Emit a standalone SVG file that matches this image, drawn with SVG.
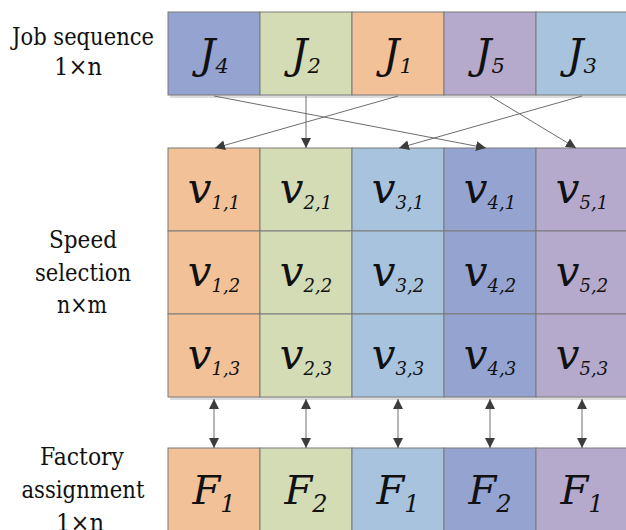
<svg xmlns="http://www.w3.org/2000/svg" width="626" height="530" viewBox="0 0 626 530">
<style>
text{font-family:'DejaVu Serif',serif;fill:#111;text-anchor:middle}
.lbl{font-size:25px}
.m{font-style:italic}
.J{font-size:41px}.Js{font-size:21px}
.v{font-size:42px}.vs{font-size:18px}
.F{font-size:40px}.Fs{font-size:24px}
.cell{stroke:#7a7a7a;stroke-width:1}
.sh{fill:#dcdcdc}
.c1{fill:#F2C198}.c2{fill:#D4DCB6}.c3{fill:#A7C3DD}.c4{fill:#95A3D0}.c5{fill:#B5AACC}
.con{stroke:#6e6e6e;stroke-width:1;fill:none}
</style>
<defs>
<marker id="ah" viewBox="0 0 10 10" refX="10" refY="5" markerWidth="10" markerHeight="10" markerUnits="userSpaceOnUse" orient="auto-start-reverse">
<path d="M0,0 L10,5 L0,10 z" fill="#3c3c3c"/>
</marker>
</defs>

<!-- Left labels -->
<g id="label-job">
<text class="lbl" x="83" y="45" textLength="142" lengthAdjust="spacingAndGlyphs">Job sequence</text>
<text class="lbl" x="78" y="75" textLength="48" lengthAdjust="spacingAndGlyphs">1×n</text>
</g>
<g id="label-speed">
<text class="lbl" x="83" y="248" textLength="68" lengthAdjust="spacingAndGlyphs">Speed</text>
<text class="lbl" x="83" y="281" textLength="96" lengthAdjust="spacingAndGlyphs">selection</text>
<text class="lbl" x="82" y="313" textLength="50" lengthAdjust="spacingAndGlyphs">n×m</text>
</g>
<g id="label-factory">
<text class="lbl" x="82" y="465" textLength="84" lengthAdjust="spacingAndGlyphs">Factory</text>
<text class="lbl" x="83" y="498" textLength="123" lengthAdjust="spacingAndGlyphs">assignment</text>
<text class="lbl" x="80" y="531" textLength="48" lengthAdjust="spacingAndGlyphs">1×n</text>
</g>

<!-- shadows -->
<rect class="sh" x="170" y="95" width="458" height="3"/>
<rect class="sh" x="170" y="397" width="458" height="3"/>

<!-- Job sequence row -->
<g id="job-row">
<g id="J4"><rect class="cell c4" x="168" y="12" width="92" height="83"/><text class="m" x="214" y="68"><tspan class="J">J</tspan><tspan class="Js" dy="5">4</tspan></text></g>
<g id="J2"><rect class="cell c2" x="260" y="12" width="92" height="83"/><text class="m" x="306" y="68"><tspan class="J">J</tspan><tspan class="Js" dy="5">2</tspan></text></g>
<g id="J1"><rect class="cell c1" x="352" y="12" width="92" height="83"/><text class="m" x="398" y="68"><tspan class="J">J</tspan><tspan class="Js" dy="5">1</tspan></text></g>
<g id="J5"><rect class="cell c5" x="444" y="12" width="92" height="83"/><text class="m" x="490" y="68"><tspan class="J">J</tspan><tspan class="Js" dy="5">5</tspan></text></g>
<g id="J3"><rect class="cell c3" x="536" y="12" width="92" height="83"/><text class="m" x="582" y="68"><tspan class="J">J</tspan><tspan class="Js" dy="5">3</tspan></text></g>
</g>

<!-- Speed selection matrix -->
<g id="speed-matrix">
<g id="v11"><rect class="cell c1" x="168" y="148" width="92" height="83"/><text class="m" x="214" y="203"><tspan class="v">v</tspan><tspan class="vs" dy="6">1,1</tspan></text></g>
<g id="v21"><rect class="cell c2" x="260" y="148" width="92" height="83"/><text class="m" x="306" y="203"><tspan class="v">v</tspan><tspan class="vs" dy="6">2,1</tspan></text></g>
<g id="v31"><rect class="cell c3" x="352" y="148" width="92" height="83"/><text class="m" x="398" y="203"><tspan class="v">v</tspan><tspan class="vs" dy="6">3,1</tspan></text></g>
<g id="v41"><rect class="cell c4" x="444" y="148" width="92" height="83"/><text class="m" x="490" y="203"><tspan class="v">v</tspan><tspan class="vs" dy="6">4,1</tspan></text></g>
<g id="v51"><rect class="cell c5" x="536" y="148" width="92" height="83"/><text class="m" x="582" y="203"><tspan class="v">v</tspan><tspan class="vs" dy="6">5,1</tspan></text></g>

<g id="v12"><rect class="cell c1" x="168" y="231" width="92" height="83"/><text class="m" x="214" y="286"><tspan class="v">v</tspan><tspan class="vs" dy="6">1,2</tspan></text></g>
<g id="v22"><rect class="cell c2" x="260" y="231" width="92" height="83"/><text class="m" x="306" y="286"><tspan class="v">v</tspan><tspan class="vs" dy="6">2,2</tspan></text></g>
<g id="v32"><rect class="cell c3" x="352" y="231" width="92" height="83"/><text class="m" x="398" y="286"><tspan class="v">v</tspan><tspan class="vs" dy="6">3,2</tspan></text></g>
<g id="v42"><rect class="cell c4" x="444" y="231" width="92" height="83"/><text class="m" x="490" y="286"><tspan class="v">v</tspan><tspan class="vs" dy="6">4,2</tspan></text></g>
<g id="v52"><rect class="cell c5" x="536" y="231" width="92" height="83"/><text class="m" x="582" y="286"><tspan class="v">v</tspan><tspan class="vs" dy="6">5,2</tspan></text></g>

<g id="v13"><rect class="cell c1" x="168" y="314" width="92" height="83"/><text class="m" x="214" y="369"><tspan class="v">v</tspan><tspan class="vs" dy="6">1,3</tspan></text></g>
<g id="v23"><rect class="cell c2" x="260" y="314" width="92" height="83"/><text class="m" x="306" y="369"><tspan class="v">v</tspan><tspan class="vs" dy="6">2,3</tspan></text></g>
<g id="v33"><rect class="cell c3" x="352" y="314" width="92" height="83"/><text class="m" x="398" y="369"><tspan class="v">v</tspan><tspan class="vs" dy="6">3,3</tspan></text></g>
<g id="v43"><rect class="cell c4" x="444" y="314" width="92" height="83"/><text class="m" x="490" y="369"><tspan class="v">v</tspan><tspan class="vs" dy="6">4,3</tspan></text></g>
<g id="v53"><rect class="cell c5" x="536" y="314" width="92" height="83"/><text class="m" x="582" y="369"><tspan class="v">v</tspan><tspan class="vs" dy="6">5,3</tspan></text></g>
</g>

<!-- Factory assignment row -->
<g id="factory-row">
<g id="F-1"><rect class="cell c1" x="168" y="448" width="92" height="83"/><text class="m" x="214" y="504"><tspan class="F">F</tspan><tspan class="Fs" dy="8">1</tspan></text></g>
<g id="F-2"><rect class="cell c2" x="260" y="448" width="92" height="83"/><text class="m" x="306" y="504"><tspan class="F">F</tspan><tspan class="Fs" dy="8">2</tspan></text></g>
<g id="F-3"><rect class="cell c3" x="352" y="448" width="92" height="83"/><text class="m" x="398" y="504"><tspan class="F">F</tspan><tspan class="Fs" dy="8">1</tspan></text></g>
<g id="F-4"><rect class="cell c4" x="444" y="448" width="92" height="83"/><text class="m" x="490" y="504"><tspan class="F">F</tspan><tspan class="Fs" dy="8">2</tspan></text></g>
<g id="F-5"><rect class="cell c5" x="536" y="448" width="92" height="83"/><text class="m" x="582" y="504"><tspan class="F">F</tspan><tspan class="Fs" dy="8">1</tspan></text></g>
</g>

<!-- Connectors -->
<g id="connectors">
<line class="con" x1="214" y1="96" x2="486" y2="148" marker-end="url(#ah)"/>
<line class="con" x1="306" y1="96" x2="306" y2="148" marker-end="url(#ah)"/>
<line class="con" x1="398" y1="96" x2="215" y2="148" marker-end="url(#ah)"/>
<line class="con" x1="490" y1="96" x2="576" y2="148" marker-end="url(#ah)"/>
<line class="con" x1="582" y1="96" x2="399" y2="148" marker-end="url(#ah)"/>

<line class="con" x1="214" y1="399" x2="214" y2="448" marker-start="url(#ah)" marker-end="url(#ah)"/>
<line class="con" x1="306" y1="399" x2="306" y2="448" marker-start="url(#ah)" marker-end="url(#ah)"/>
<line class="con" x1="398" y1="399" x2="398" y2="448" marker-start="url(#ah)" marker-end="url(#ah)"/>
<line class="con" x1="490" y1="399" x2="490" y2="448" marker-start="url(#ah)" marker-end="url(#ah)"/>
<line class="con" x1="582" y1="399" x2="582" y2="448" marker-start="url(#ah)" marker-end="url(#ah)"/>
</g>
</svg>
